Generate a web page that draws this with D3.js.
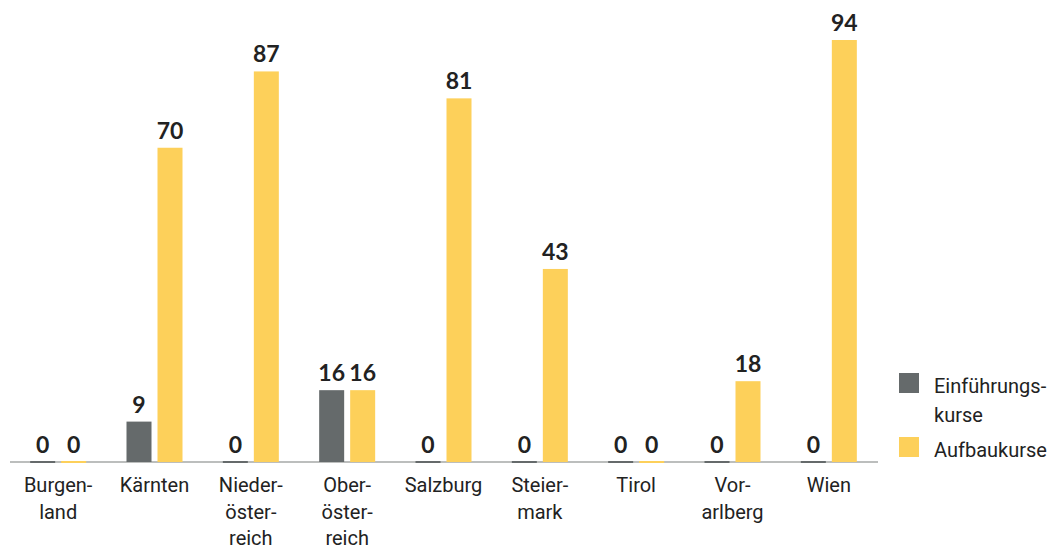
<!DOCTYPE html>
<html><head><meta charset="utf-8">
<script src="https://cdn.jsdelivr.net/npm/d3@7"></script>
<style>
body{margin:0;background:#fff;}
text{font-family:"Roboto","Noto Sans",sans-serif;}
.val{font-family:"Lato","Open Sans",sans-serif;font-weight:700;}
</style></head><body>
<svg id="c" width="1059" height="550"></svg>
<script>
const categories = ["Burgenland","Kärnten","Niederösterreich","Oberösterreich","Salzburg","Steiermark","Tirol","Vorarlberg","Wien"];
const categoryLines = [["Burgen-","land"],["Kärnten"],["Nieder-","öster-","reich"],["Ober-","öster-","reich"],["Salzburg"],["Steier-","mark"],["Tirol"],["Vor-","arlberg"],["Wien"]];
const seriesNames = ["Einführungskurse","Aufbaukurse"];
const legendLines = [["Einführungs-","kurse"],["Aufbaukurse"]];
const einfuehrung = [0,9,0,16,0,0,0,0,0];
const aufbau = [0,70,87,16,81,43,0,18,94];
const colors = ["#656a6b","#fdd05a"];

const svg = d3.select("#c");
const baseY = 462, topY = 40;
const x0 = d3.scaleBand().domain(categories).range([10, 877]).padding(0);
const groupW = 56;
const x1 = d3.scaleBand().domain(seriesNames).range([0, groupW]).paddingInner(0.1935).paddingOuter(0);
const y = d3.scaleLinear().domain([0, 94]).range([baseY, topY]);

svg.append("line").attr("x1",10).attr("x2",878).attr("y1",baseY).attr("y2",baseY)
  .attr("stroke","#bcbebd").attr("stroke-width",2);

const data = [einfuehrung, aufbau];
seriesNames.forEach((s, si) => {
  const g = svg.append("g");
  categories.forEach((c, ci) => {
    const v = data[si][ci];
    const bx = x0(c) + (x0.bandwidth() - groupW) / 2 + x1(s);
    const h = baseY - y(v);
    g.append("rect").attr("x", bx).attr("y", v === 0 ? baseY - 1 : y(v)).attr("width", x1.bandwidth())
      .attr("height", v === 0 ? 2 : h).attr("fill", colors[si]);
    g.append("text").attr("class","val").attr("x", bx + x1.bandwidth()/2).attr("y", y(v) - 9)
      .attr("text-anchor","middle").attr("font-size", 23).attr("fill","#222").text(v);
  });
});

categories.forEach((c, ci) => {
  const cx = x0(c) + x0.bandwidth()/2;
  const t = svg.append("text").attr("text-anchor","middle").attr("font-size",20).attr("fill","#222")
    .attr("x", cx).attr("y", 492);
  categoryLines[ci].forEach((ln, li) => {
    t.append("tspan").attr("x", cx).attr("y", 492 + li*26.5).text(ln);
  });
});

const legY = [373, 437];
seriesNames.forEach((s, si) => {
  svg.append("rect").attr("x", 899).attr("y", legY[si]).attr("width", 20).attr("height", 20).attr("fill", colors[si]);
  legendLines[si].forEach((ln, li) => {
    svg.append("text").attr("x", 934).attr("y", legY[si] + 20 + li*29).attr("font-size",20).attr("fill","#222").text(ln);
  });
});
</script></body></html>
